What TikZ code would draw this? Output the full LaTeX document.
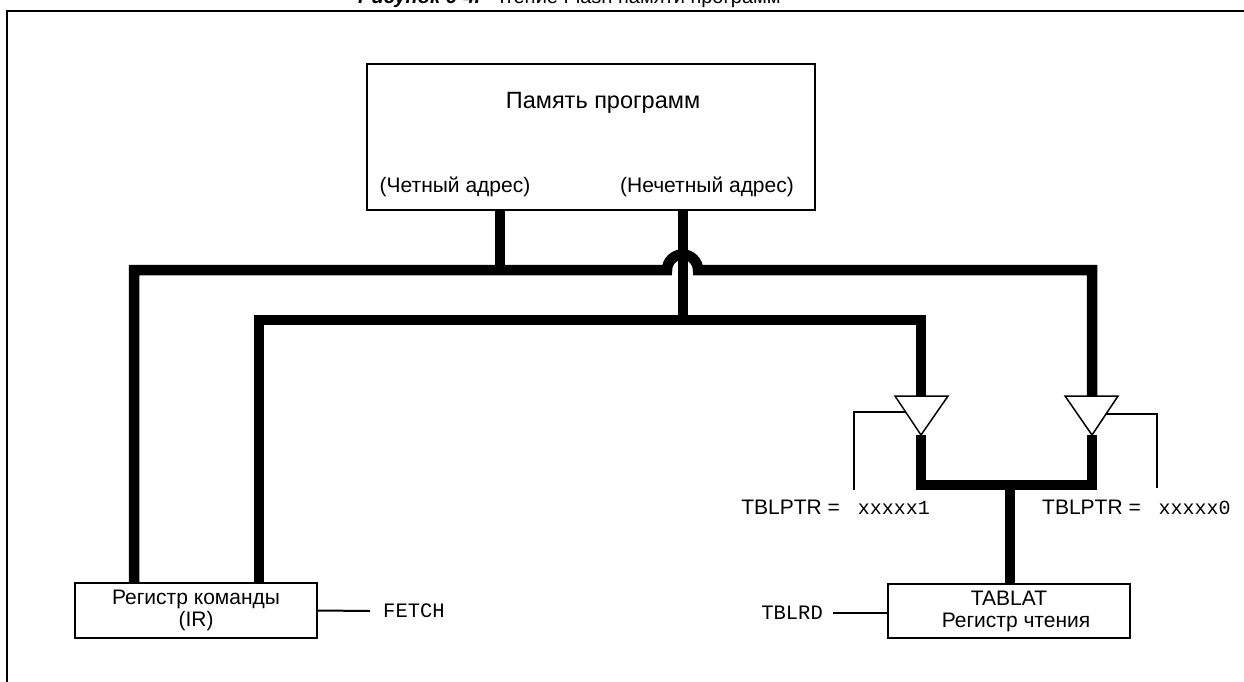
\documentclass[tikz,border=0pt]{standalone}
\usepackage{fontspec}
\setmainfont{Liberation Sans}
\newfontfamily\cour{Liberation Mono}
\begin{document}
\begin{tikzpicture}[x=1pt,y=-1pt,
 bus/.style={line width=10.5pt, line join=miter},
 thinline/.style={line width=2pt},
 frameline/.style={line width=2pt},
 box/.style={draw, line width=2pt, inner sep=0pt, align=center, font=\fontsize{21}{22}\selectfont},
 lbl/.style={inner sep=0pt, font=\fontsize{21}{24}\selectfont},
 mono/.style={inner sep=0pt, font=\cour\fontsize{20.5}{24}\selectfont},
 buffer/.style={draw, fill=white, line width=1.5pt, line join=miter}]
\useasboundingbox (0,0) rectangle (1244,682);
\clip (0,0) rectangle (1244,682);

% title (cut off at the top, as in the reference) and frame
\node[lbl, font=\fontsize{20}{24}\selectfont, anchor=base west] (title) at (358,4) {\textbf{\textit{Рисунок 6-4.}}\ \ Чтение Flash памяти программ};
\draw[frameline] (1244,11) -- (7,11) -- (7,682);

% boxes
\node[box, minimum width=448pt, minimum height=146pt] (mem) at (591,137) {};
\node[lbl, font=\fontsize{23.5}{26}\selectfont] (memt) at (603,103) {Память программ};
\node[lbl] (even) at (455,187) {(Четный адрес)};
\node[lbl] (odd) at (707,187) {(Нечетный адрес)};

\node[box, minimum width=242pt, minimum height=55pt] (ir) at (196,610.5) {Регистр команды\\(IR)};
\node[box, minimum width=242pt, minimum height=54pt] (tablat) at (1009,611) {TABLAT\\\hspace*{14pt}Регистр чтения};

\node[mono, anchor=west] (fetch) at (383,611) {FETCH};
\node[mono, anchor=east] (tblrd) at (823,612.7) {TBLRD};
\draw[thinline] (ir.east) -- ([xshift=-13pt]fetch.west);
\draw[thinline] ([xshift=10pt]tblrd.east) -- (tblrd.east -| tablat.west);

% buffers
\coordinate (lbt) at (921,396);
\coordinate (lba) at (921,435);
\coordinate (rbt) at (1092,396);
\coordinate (rba) at (1092,435);
\coordinate (join) at (1010,485);

% buses
\draw[bus] (mem.south -| 500,0) -- (500,270);
\draw[bus] (ir.north -| 134,0) -- (134,270) -- (667,270)
  arc[start angle=180, end angle=0, radius=15.5pt] -- (1092,270) -- (rbt);
\draw[bus] (mem.south -| 683,0) -- (683,320);
\draw[bus] (ir.north -| 259,0) -- (259,320) -- (921,320) -- (lbt);
\draw[bus] (lba) -- (921,485) -- (1092,485) -- (rba);
\draw[bus] (join) -- (tablat.north -| join);

\draw[buffer] (895,396) -- (948,396) -- (lba) -- cycle;
\draw[buffer] (1065,396) -- (1118,396) -- (rba) -- cycle;

% enable lines
\draw[thinline] (905.7,412) -- (854,412) -- (854,490);
\draw[thinline] (1106,414) -- (1157,414) -- (1157,488);

\node[lbl, anchor=east] (ptr1) at (930,507) {TBLPTR =\ {\cour\fontsize{20}{24}\selectfont\ xxxxx1}};
\node[lbl, anchor=west] (ptr0) at (1042,507) {TBLPTR =\ {\cour\fontsize{20}{24}\selectfont\ xxxxx0}};
\end{tikzpicture}
\end{document}
